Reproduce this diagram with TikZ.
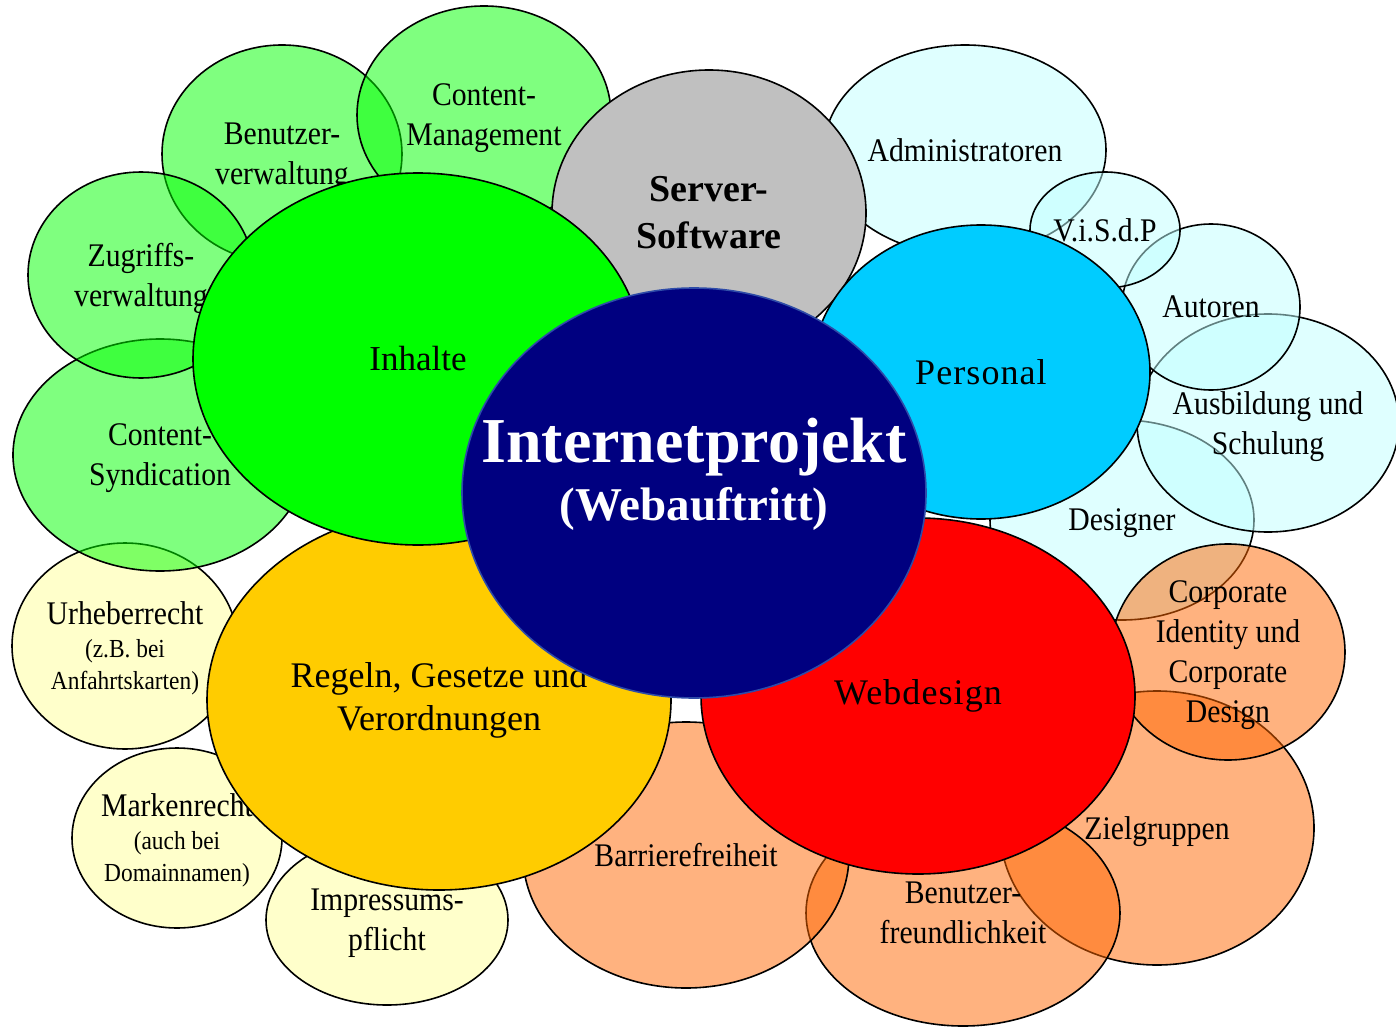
\documentclass[tikz,border=0pt]{standalone}
\usepackage{fontspec}
\setmainfont{Liberation Serif}
\newfontfamily\narrowserif{Liberation Serif}[FakeStretch=0.9]
\newfontfamily\wideserif{Liberation Serif}[LetterSpace=3]
\usetikzlibrary{shapes.geometric}
\definecolor{paleyellow}{HTML}{FFFF99}
\definecolor{paleblue}{HTML}{C0FFFF}
\definecolor{deeporange}{HTML}{FF6600}
\definecolor{silver}{HTML}{C0C0C0}
\definecolor{skyblue}{HTML}{00CCFF}
\definecolor{gold}{HTML}{FFCC00}
\definecolor{navy}{HTML}{000080}
\definecolor{rim}{HTML}{2E4BA8}

\begin{document}
\begin{tikzpicture}[x=1pt, y=-1pt,
	radii/.style 2 args={minimum width=2*#1, minimum height=2*#2},
	blob/.style={ellipse, draw, line width=1.6pt, inner sep=-15pt, align=center},
	leaf/.style={blob, fill opacity=0.5, text opacity=1, text depth=0pt, font=\narrowserif\fontsize{33}{40}\selectfont},
	greenleaf/.style={leaf, fill=green},
	cyanleaf/.style={leaf, fill=paleblue},
	yellowleaf/.style={leaf, fill=paleyellow},
	orangeleaf/.style={leaf, fill=deeporange},
	topic/.style={blob, font=\fontsize{36}{43}\selectfont}]
	\fill[white] (0, 0) rectangle (1396, 1027);
	\useasboundingbox (0, 0) rectangle (1396, 1027);

	\node[yellowleaf, radii={113}{103}] (urheber) at (125, 646)
		{Urheberrecht\\[-7pt]\fontsize{26}{32}\selectfont (z.B. bei\\[-8pt]\fontsize{26}{32}\selectfont Anfahrtskarten)};
	\node[yellowleaf, radii={105}{90}] (marken) at (177, 838)
		{Markenrecht\\[-7pt]\fontsize{26}{32}\selectfont (auch bei\\[-8pt]\fontsize{26}{32}\selectfont Domainnamen)};
	\node[yellowleaf, radii={121}{85}] (impressum) at (387, 920) {Impressums-\\pflicht};

	\node[greenleaf, radii={147}{116}] (syndication) at (160, 455) {Content-\\Syndication};
	\node[greenleaf, radii={120}{109}] (benutzer) at (282, 154) {Benutzer-\\verwaltung};
	\node[greenleaf, radii={113}{103}] (zugriff) at (141, 275) {Zugriffs-\\verwaltung};
	\node[greenleaf, radii={127}{109}] (management) at (484, 115) {Content-\\Management};

	\node[cyanleaf, radii={141}{105}] (admin) at (965, 150) {Administratoren};
	\node[cyanleaf, radii={132}{100}] (designer) at (1122, 520) {Designer};
	\node[cyanleaf, radii={131}{109}] (schulung) at (1268, 423) {Ausbildung und\\Schulung};
	\node[cyanleaf, radii={89}{83}] (autoren) at (1211, 307) {Autoren};
	\node[cyanleaf, radii={75}{58}] (visdp) at (1105, 230) {V.i.S.d.P};

	\node[orangeleaf, radii={157}{137}] (zielgruppen) at (1157, 828) {Zielgruppen};
	\node[orangeleaf, radii={157}{113}] (freundlich) at (963, 913) {Benutzer-\\freundlichkeit};
	\node[orangeleaf, radii={163}{133}] (barriere) at (686, 855) {Barrierefreiheit};
	\node[orangeleaf, radii={117}{108}] (corporate) at (1228, 652)
		{Corporate\\Identity und\\Corporate\\Design};

	\node[topic, fill=gold, radii={232}{190}] (regeln) at (439, 700) {Regeln, Gesetze und\\Verordnungen};
	\node[topic, fill=red, radii={217}{178}, font=\wideserif\fontsize{36}{43}\selectfont] (webdesign) at (918, 696) {Webdesign};
	\node[topic, fill=silver, radii={157}{143}, font=\fontsize{38}{47}\selectfont\bfseries] (server) at (709, 213) {Server-\\Software};
	\node[topic, fill=green, radii={225}{186}, font=\fontsize{35}{43}\selectfont] (inhalte) at (418, 359) {Inhalte};
	\node[topic, fill=skyblue, radii={169}{147}, font=\wideserif\fontsize{36}{43}\selectfont] (personal) at (981, 372) {Personal};

	\node[blob, fill=navy, draw=rim, radii={232}{205}] (projekt) at (694, 493) {};
	\node[text=white, align=center, font=\fontsize{64}{58}\selectfont\bfseries] (projekttext) at (694, 474)
		{Internetprojekt\\\fontsize{47}{58}\selectfont (Webauftritt)};
\end{tikzpicture}
\end{document}
